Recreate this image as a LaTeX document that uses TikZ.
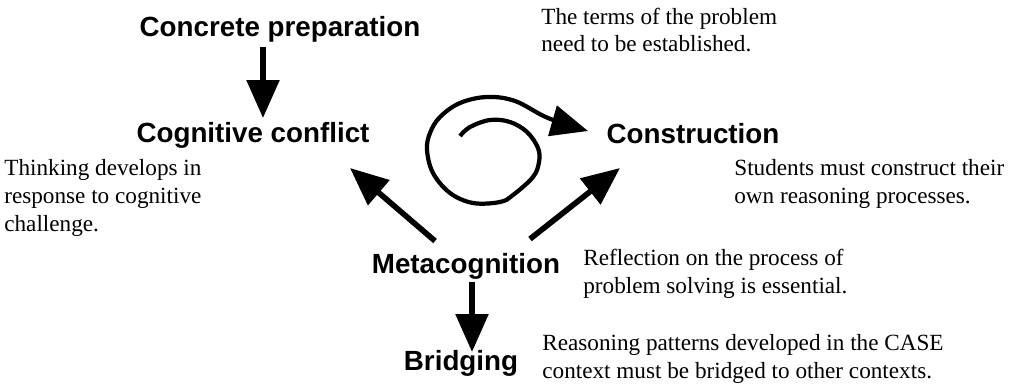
\documentclass[tikz,border=0pt]{standalone}
\usepackage{fontspec}
\setmainfont{Liberation Serif}
\setsansfont{Liberation Sans}
\usetikzlibrary{arrows.meta}

\tikzset{
  stage/.style={font=\sffamily\bfseries\fontsize{15.8}{18}\selectfont, inner sep=0pt, anchor=base},
  note/.style={font=\fontsize{13.2}{15.9}\selectfont, align=left, inner sep=0pt, anchor=base west},
  bigarrow/.style={line width=3.2pt, -{Triangle[length=0.76cm,width=0.64cm]}},
}

\begin{document}
\begin{tikzpicture}[x=0.02cm,y=-0.02cm]
\useasboundingbox (0,0) rectangle (1014,385);
% stages of the lesson
\node[stage] (prep) at (280,37) {Concrete preparation};
\node[stage] (conflict) at (253,142) {Cognitive conflict};
\node[stage] (constr) at (693,143) {Construction};
\node[stage] (meta) at (466,273) {Metacognition};
\node[stage] (bridge) at (461,370) {Bridging};
% comments (placed at the baseline of their last line)
\node[note] (termsnote) at (541,52) {The terms of the problem\\need to be established.};
\node[note] (conflictnote) at (4,231) {Thinking develops in\\response to cognitive\\challenge.};
\node[note] (constrnote) at (734,203) {Students must construct their\\own reasoning processes.};
\node[note] (metanote) at (583,293) {Reflection on the process of\\problem solving is essential.};
\node[note] (bridgenote) at (542,378) {Reasoning patterns developed in the CASE\\context must be bridged to other contexts.};
% arrow ends
\coordinate (prepout) at (263,47);
\coordinate (conflictin) at (263,118);
\coordinate (metaoutL) at (435,241);
\coordinate (conflictinR) at (350,168);
\coordinate (metaoutR) at (530,239);
\coordinate (constrin) at (620,168);
\coordinate (metaoutD) at (472,282);
\coordinate (bridgein) at (472,352);
\coordinate (spiralstart) at (460,136);
\coordinate (spiraltip) at (588,131);
% arrows
\draw[bigarrow] (prepout) -- (conflictin);
\draw[bigarrow] (metaoutL) -- (conflictinR);
\draw[bigarrow] (metaoutR) -- (constrin);
\draw[bigarrow] (metaoutD) -- (bridgein);
% spiral
\draw[line width=2.4pt, -{Triangle[length=0.74cm,width=0.62cm]}]
  plot[smooth, tension=0.6] coordinates {(spiralstart) (470,127) (490,120) (510,122) (527,132)
    (538,148) (539,162) (533,177) (513,195) (500,202) (473,203) (450,193) (433,173)
    (427,150) (430,133) (440,117) (460,103) (487,97) (515,101) (548,118) (spiraltip)};
\end{tikzpicture}
\end{document}
